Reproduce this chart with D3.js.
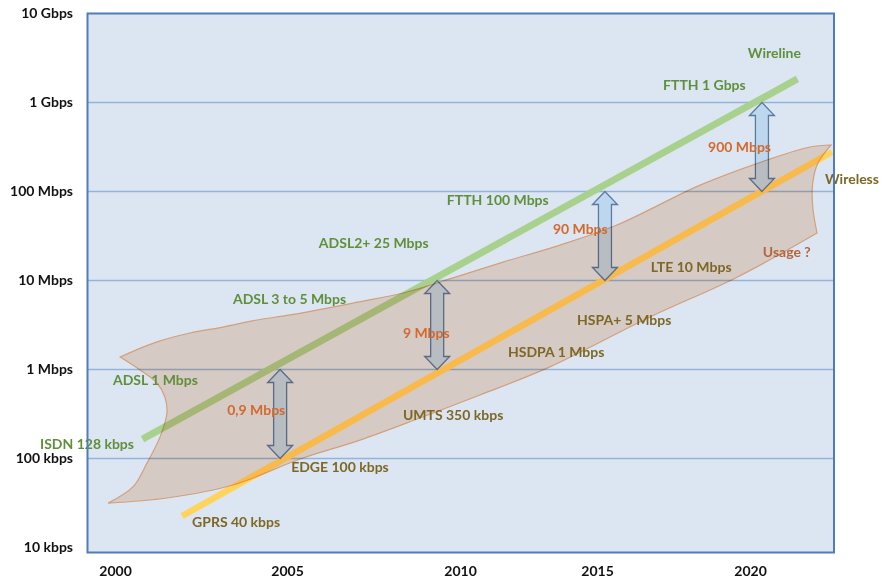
<!DOCTYPE html>
<html>
<head>
<meta charset="utf-8">
<script src="https://cdn.jsdelivr.net/npm/d3@7"></script>
<style>
  body { margin: 0; background: #fff; }
  svg text { font-family: Lato, "Open Sans", sans-serif; font-weight: bold; }
</style>
</head>
<body>
<div id="chart"></div>
<script>
// axis
const tickYears = [2000, 2005, 2010, 2015, 2020];
const speedTicks = [0.01, 0.1, 1, 10, 100, 1000, 10000]; // Mbps
const speedLabels = ['10 kbps', '100 kbps', '1 Mbps', '10 Mbps', '100 Mbps', '1 Gbps', '10 Gbps'];

// trend lines [year, Mbps]
const wireline = [[2000.8, 0.165], [2021.55, 1840]];
const wireless = [[2001.95, 0.0226], [2022.68, 278]];

// gap between wireline and wireless [year, top Mbps, bottom Mbps]
const gaps = [[2004.8, 1, 0.1], [2009.34, 10, 1], [2015.26, 100, 10], [2020.39, 1000, 100]];

// "usage" zone outline, four edges [year, Mbps]
const usageUpper = [[2000.15, 1.38], [2001.22, 2.04], [2002.18, 2.57], [2003.14, 3.0], [2004.13, 3.6],
  [2005.09, 4.1], [2006.91, 5.58], [2008.47, 7.43], [2009.8, 10.7], [2011.57, 16.1], [2013.65, 25],
  [2015.65, 42], [2018.37, 118], [2020.56, 226], [2021.96, 316], [2022.65, 333]];
const usageRight = [[2022.65, 333], [2022.22, 209], [2022.05, 125], [2022.05, 67], [2022.19, 34.2]];
const usageLower = [[2022.19, 34.2], [2019.58, 10.9], [2016.73, 3.89], [2013.28, 1.07], [2010.73, 0.517],
  [2008.84, 0.285], [2007.11, 0.161], [2005.38, 0.0987], [2003.43, 0.0504], [2001.51, 0.036], [1999.8, 0.0316]];
const usageLeft = [[1999.8, 0.0316], [2000.52, 0.0479], [2000.93, 0.089], [2001.31, 0.175], [2001.51, 0.324],
  [2001.45, 0.491], [2001.22, 0.705], [2000.73, 0.986], [2000.15, 1.38]];

// annotations [text, year, Mbps]
const wirelineNotes = [['Wireline', 2019.93, 3600], ['FTTH 1 Gbps', 2017.16, 1570], ['FTTH 100 Mbps', 2009.62, 80],
  ['ADSL2+ 25 Mbps', 2005.92, 26.4], ['ADSL 3 to 5 Mbps', 2003.43, 6.2], ['ADSL 1 Mbps', 1999.94, 0.762],
  ['ISDN 128 kbps', 1997.82, 0.1455]];
const gapNotes = [['900 Mbps', 2018.63, 316], ['90 Mbps', 2013.39, 37.9], ['9 Mbps', 2008.35, 2.57],
  ['0,9 Mbps', 2003.26, 0.351]];
const wirelessNotes = [['Wireless', 2022.45, 138], ['LTE 10 Mbps', 2016.76, 14.2], ['HSPA+ 5 Mbps', 2014.27, 3.6],
  ['HSDPA 1 Mbps', 2011.75, 1.57], ['UMTS 350 kbps', 2008.35, 0.308], ['EDGE 100 kbps', 2005.12, 0.08],
  ['GPRS 40 kbps', 2002.24, 0.01935]];
const usageNote = [['Usage ?', 2020.42, 20.9]];

const W = 887, H = 586;
const plot = { left: 87.5, right: 834, top: 13.5, bottom: 552.5 };

let svg = d3.select('#chart').append('svg').attr('width', W).attr('height', H);

// year labels in the source are not evenly spaced
let x = d3.scaleLinear().domain(tickYears).range([115, 287, 460, 597, 750]);
let y = d3.scaleLog().domain([0.01, 10000]).range([547.5, 13.5]);

svg.append('rect')
  .attr('x', plot.left).attr('y', plot.top)
  .attr('width', plot.right - plot.left).attr('height', plot.bottom - plot.top)
  .attr('fill', '#dce6f2');

svg.selectAll('.grid')
  .data(speedTicks.slice(1, -1))
  .enter().append('line')
  .attr('x1', plot.left).attr('x2', plot.right)
  .attr('y1', d => y(d)).attr('y2', d => y(d))
  .attr('stroke', '#95b3d7').attr('stroke-width', 1.3);

let line = d3.line().x(d => x(d[0])).y(d => y(d[1]));

svg.append('path').attr('d', line(wireline))
  .attr('fill', 'none').attr('stroke', '#a9d18e').attr('stroke-width', 7);
svg.append('path').attr('d', line(wireless))
  .attr('fill', 'none').attr('stroke', '#ffd45c').attr('stroke-width', 6.5);

// double headed arrows
function arrowPath(d) {
  let cx = x(d[0]), y1 = y(d[1]), y2 = y(d[2]);
  let s = 6.5, h = 12.5, hl = 13;
  return 'M' + cx + ',' + y1 +
    'L' + (cx + h) + ',' + (y1 + hl) + 'L' + (cx + s) + ',' + (y1 + hl) +
    'L' + (cx + s) + ',' + (y2 - hl) + 'L' + (cx + h) + ',' + (y2 - hl) +
    'L' + cx + ',' + y2 +
    'L' + (cx - h) + ',' + (y2 - hl) + 'L' + (cx - s) + ',' + (y2 - hl) +
    'L' + (cx - s) + ',' + (y1 + hl) + 'L' + (cx - h) + ',' + (y1 + hl) + 'Z';
}

svg.selectAll('.gap')
  .data(gaps)
  .enter().append('path')
  .attr('d', arrowPath)
  .attr('fill', '#bdd7ee').attr('stroke', '#5b7aa2').attr('stroke-width', 1.3);

// usage zone, multiplied over what lies beneath
let curve = d3.line().x(d => x(d[0])).y(d => y(d[1])).curve(d3.curveCatmullRom);
let zone = [usageUpper, usageRight, usageLower, usageLeft]
  .map((e, i) => i === 0 ? curve(e) : curve(e).replace(/^M/, 'L'))
  .join('') + 'Z';

svg.append('path')
  .attr('d', zone)
  .attr('fill', '#f8e0d0')
  .attr('stroke', '#f4b183').attr('stroke-width', 1.2)
  .style('mix-blend-mode', 'multiply');

function notes(data, color) {
  svg.selectAll(null)
    .data(data)
    .enter().append('text')
    .attr('x', d => x(d[1]))
    .attr('y', d => y(d[2]))
    .attr('dy', '0.35em')
    .attr('font-size', 14)
    .attr('fill', color)
    .text(d => d[0]);
}
notes(wirelineNotes, '#5f8f3a');
notes(gapNotes, '#d2692d');
notes(wirelessNotes, '#7d6724');
notes(usageNote, '#b4653a');

svg.append('rect')
  .attr('x', plot.left).attr('y', plot.top)
  .attr('width', plot.right - plot.left).attr('height', plot.bottom - plot.top)
  .attr('fill', 'none').attr('stroke', '#4f7db5').attr('stroke-width', 2);

// axes
let yAxis = svg.append('g')
  .attr('transform', 'translate(' + 80 + ',0)')
  .call(d3.axisLeft(y).tickValues(speedTicks).tickSize(0).tickPadding(7)
    .tickFormat((d, i) => speedLabels[i]));
yAxis.select('.domain').remove();
yAxis.selectAll('text').attr('font-size', 14).attr('fill', '#111')
  .style('font-family', 'Lato, sans-serif').style('font-weight', 'bold');

let xAxis = svg.append('g')
  .attr('transform', 'translate(0,' + 566 + ')')
  .call(d3.axisBottom(x).tickValues(tickYears).tickSize(0).tickPadding(0).tickFormat(d3.format('d')));
xAxis.select('.domain').remove();
xAxis.selectAll('text').attr('font-size', 14).attr('fill', '#111')
  .style('font-family', 'Lato, sans-serif').style('font-weight', 'bold');
</script>
</body>
</html>
